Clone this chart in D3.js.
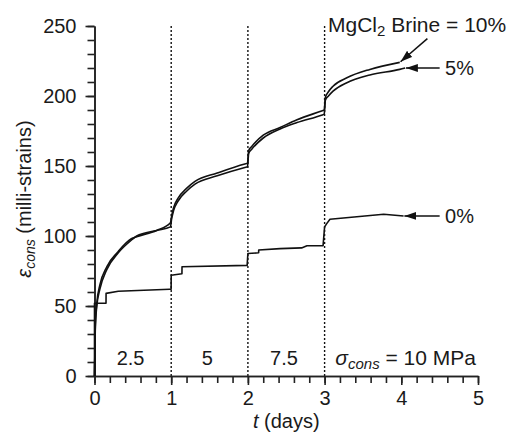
<!DOCTYPE html>
<html>

<head>
    <meta charset="utf-8">
    <script src="https://d3js.org/d3.v7.min.js"></script>
    <style>
        body { margin: 0; background: #fff; }
        text { font-family: Arial, "Liberation Sans", sans-serif; fill: #1a1a1a; }
    </style>
    <script>
        const w = 513
        const h = 438
        // time (days) and consolidation strain (milli-strains)
        const tBrine10 = [0, 0.01, 0.03, 0.07, 0.16, 0.31, 0.48, 0.55, 0.81, 0.99, 1.005, 1.03, 1.09, 1.2, 1.31, 1.6, 1.96, 1.995, 2.01, 2.05, 2.2, 2.42, 2.64, 2.97, 2.995, 3.01, 3.05, 3.11, 3.29, 3.59, 3.98]
        const strainBrine10 = [0, 35, 52, 65, 78, 89, 98, 99.5, 104, 109.5, 114, 120, 127, 134, 139, 145, 151.5, 152, 161, 164, 172, 177.5, 183, 189.5, 190, 199, 203, 207, 213, 219, 224]
        const tBrine5 = [0, 0.01, 0.03, 0.07, 0.16, 0.31, 0.48, 0.55, 0.81, 0.99, 1.005, 1.03, 1.09, 1.2, 1.31, 1.6, 1.96, 1.995, 2.01, 2.05, 2.2, 2.42, 2.64, 2.97, 2.995, 3.01, 3.05, 3.11, 3.29, 3.59, 3.98, 4.05]
        const strainBrine5 = [0, 33, 50, 62, 76, 88, 97, 100, 104, 106.5, 112, 118, 125, 132, 137, 143, 149, 149.5, 159, 162, 170, 176.5, 181, 186.5, 187, 197, 200, 203.5, 209.5, 215, 219, 220]
        const tBrine0 = [0, 0, 0.15, 0.151, 0.31, 0.98, 0.999, 1.0, 1.14, 1.141, 1.99, 2.0, 2.14, 2.141, 2.42, 2.7, 2.77, 2.98, 3.0, 3.03, 3.07, 3.42, 3.77, 4.03]
        const strainBrine0 = [0, 52, 52, 59, 60.5, 62, 62, 72, 73, 78, 79, 87.5, 88, 90, 91, 91.5, 93, 93, 106.5, 109, 112, 113.8, 115.5, 114.3]
        const stageDays = [1, 2, 3]
        const stageStress = ["2.5", "5", "7.5"]
        const xTicks = [0, 1, 2, 3, 4, 5]
        const yTicks = [0, 50, 100, 150, 200, 250]

        function drawChart() {
            const x = d3.scaleLinear().domain([0, 5]).range([94.5, 478])
            const y = d3.scaleLinear().domain([0, 250]).range([376, 26])

            const svg = d3.select("body").append("svg")
                .attr("width", w)
                .attr("height", h)

            svg.append("defs").append("marker")
                .attr("id", "head")
                .attr("viewBox", "0 0 12 8")
                .attr("refX", 12).attr("refY", 4)
                .attr("markerWidth", 12).attr("markerHeight", 8)
                .attr("markerUnits", "userSpaceOnUse")
                .attr("orient", "auto")
                .append("path").attr("d", "M0,0L12,4L0,8Z").attr("fill", "#111")

            // dotted stage boundaries
            svg.selectAll(".stage")
                .data(stageDays)
                .enter().append("line")
                .attr("x1", d => x(d)).attr("x2", d => x(d))
                .attr("y1", y(0)).attr("y2", y(250))
                .attr("stroke", "#111").attr("stroke-width", 1.4)
                .attr("stroke-dasharray", "2,2")

            // axes: minor then major ticks
            svg.append("g").attr("transform", `translate(${x(0)},0)`)
                .call(d3.axisLeft(y).tickValues(d3.range(0, 251, 10)).tickSize(7).tickSizeOuter(0).tickFormat(""))
            svg.append("g").attr("transform", `translate(${x(0)},0)`)
                .call(d3.axisLeft(y).tickValues(yTicks).tickSize(9).tickSizeOuter(0).tickPadding(9))
            svg.append("g").attr("transform", `translate(0,${y(0)})`)
                .call(d3.axisBottom(x).tickValues(d3.range(0, 5.01, 0.2)).tickSize(7).tickSizeOuter(0).tickFormat(""))
            svg.append("g").attr("transform", `translate(0,${y(0)})`)
                .call(d3.axisBottom(x).tickValues(xTicks).tickSize(9).tickSizeOuter(0).tickPadding(6).tickFormat(d3.format("d")))
            svg.selectAll(".domain, .tick line").attr("stroke", "#222").attr("stroke-width", 1.6)
            svg.selectAll(".tick text").attr("font-size", 20).attr("fill", "#1a1a1a")
                .attr("font-family", "Arial, 'Liberation Sans', sans-serif")

            // curves
            const series = [
                { t: tBrine10, v: strainBrine10, curve: d3.curveMonotoneX },
                { t: tBrine5, v: strainBrine5, curve: d3.curveMonotoneX },
                { t: tBrine0, v: strainBrine0, curve: d3.curveLinear }
            ]
            series.forEach(s => {
                const line = d3.line().x(i => x(s.t[i])).y(i => y(s.v[i])).curve(s.curve)
                svg.append("path")
                    .attr("d", line(d3.range(s.t.length)))
                    .attr("fill", "none").attr("stroke", "#111").attr("stroke-width", 1.6)
                    .attr("stroke-linejoin", "round")
            })

            // stage stress labels
            svg.selectAll(".stress")
                .data(stageStress)
                .enter().append("text")
                .attr("x", (d, i) => x(stageDays[i] - 0.53))
                .attr("y", y(8))
                .attr("text-anchor", "middle").attr("font-size", 20)
                .text(d => d)
            const sig = svg.append("text").attr("x", x(3.14)).attr("y", y(8)).attr("font-size", 21)
            sig.append("tspan").attr("font-style", "italic").text("σ")
            sig.append("tspan").attr("font-style", "italic").attr("font-size", 15).attr("dy", 4).text("cons")
            sig.append("tspan").attr("dy", -4).text(" = 10 MPa")

            // annotations
            const arrows = [
                { from: [4.34, 241], to: [3.99, 224.5] },
                { from: [4.5, 220], to: [4.06, 220] },
                { from: [4.5, 114.3], to: [4.04, 114.3] }
            ]
            svg.selectAll(".arrow")
                .data(arrows)
                .enter().append("line")
                .attr("x1", d => x(d.from[0])).attr("y1", d => y(d.from[1]))
                .attr("x2", d => x(d.to[0])).attr("y2", d => y(d.to[1]))
                .attr("stroke", "#111").attr("stroke-width", 1.5)
                .attr("marker-end", "url(#head)")
            svg.append("text").attr("x", x(4.57)).attr("y", y(220) + 7).attr("font-size", 20).text("5%")
            svg.append("text").attr("x", x(4.57)).attr("y", y(114.3) + 7).attr("font-size", 20).text("0%")
            const mg = svg.append("text").attr("x", 328).attr("y", 32).attr("font-size", 21)
            mg.append("tspan").text("MgCl")
            mg.append("tspan").attr("font-size", 15).attr("dy", 4).text("2")
            mg.append("tspan").attr("dy", -4).text(" Brine = 10%")

            // axis titles
            const xt = svg.append("text").attr("x", x(2.5)).attr("y", 428).attr("text-anchor", "middle").attr("font-size", 20)
            xt.append("tspan").attr("font-style", "italic").text("t")
            xt.append("tspan").text(" (days)")
            const yt = svg.append("text").attr("transform", "translate(31,199) rotate(-90)")
                .attr("text-anchor", "middle").attr("font-size", 20)
            yt.append("tspan").attr("font-style", "italic").text("ε")
            yt.append("tspan").attr("font-style", "italic").attr("font-size", 14).attr("dy", 4).text("cons")
            yt.append("tspan").attr("dy", -4).text(" (milli-strains)")
        }
    </script>
</head>

<body onload="drawChart()">
</body>

</html>
